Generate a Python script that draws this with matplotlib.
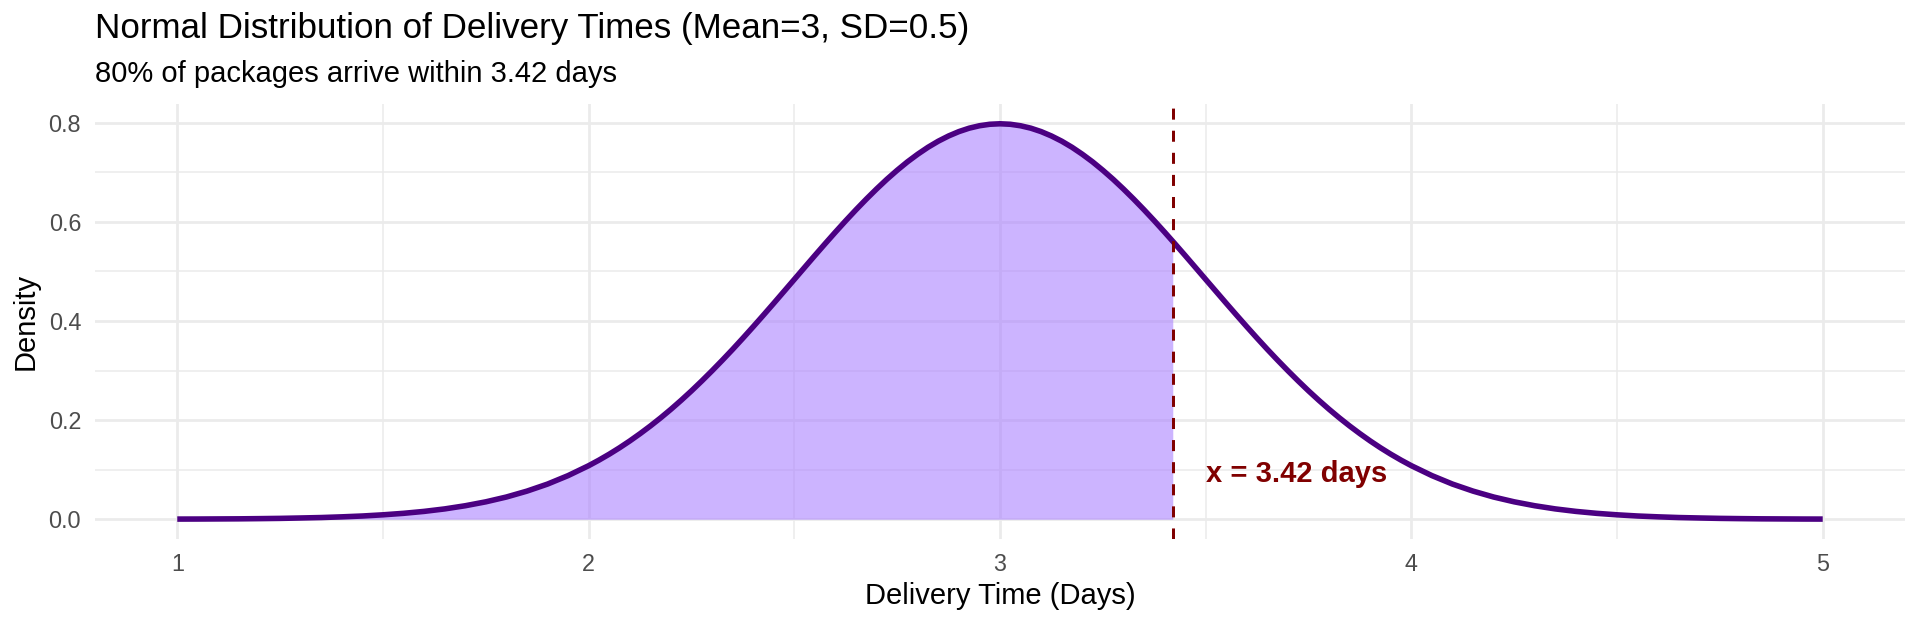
import numpy as np
import matplotlib
matplotlib.use("Agg")
import matplotlib.pyplot as plt

plt.rcParams['font.family'] = ['Liberation Sans', 'DejaVu Sans']

# ---- data ----
mean_days = 3
sd_days = 0.5
cutoff_days = 3.42
cutoff_density = 0.561
# distance from the mean (days) and the density read at that distance (curve is symmetric)
offsets = [2.00, 1.95, 1.90, 1.85, 1.80, 1.75, 1.70, 1.65, 1.60, 1.55,
           1.50, 1.45, 1.40, 1.35, 1.30, 1.25, 1.20, 1.15, 1.10, 1.05,
           1.000, 0.975, 0.950, 0.925, 0.900, 0.875, 0.850, 0.825, 0.800, 0.775,
           0.750, 0.725, 0.700, 0.675, 0.650, 0.625, 0.600, 0.575, 0.550, 0.525,
           0.500, 0.475, 0.450, 0.425, 0.400, 0.375, 0.350, 0.325, 0.300, 0.275,
           0.250, 0.225, 0.200, 0.175, 0.150, 0.125, 0.100, 0.075, 0.050, 0.025,
           0.000]
half_density = [0.0003, 0.0004, 0.0006, 0.0008, 0.0012, 0.0017, 0.0025, 0.0034, 0.0048, 0.0065,
                0.0089, 0.0119, 0.0158, 0.0208, 0.0272, 0.0351, 0.0448, 0.0567, 0.0709, 0.0880,
                0.1080, 0.1192, 0.1312, 0.1441, 0.1579, 0.1726, 0.1881, 0.2045, 0.2218, 0.2400,
                0.2590, 0.2789, 0.2995, 0.3208, 0.3427, 0.3653, 0.3884, 0.4119, 0.4357, 0.4598,
                0.4839, 0.5081, 0.5322, 0.5560, 0.5794, 0.6023, 0.6245, 0.6459, 0.6664, 0.6859,
                0.7041, 0.7211, 0.7365, 0.7505, 0.7628, 0.7733, 0.7821, 0.7890, 0.7939, 0.7969,
                0.7979]
x_ticks = [1, 2, 3, 4, 5]
x_minor = [1.5, 2.5, 3.5, 4.5]
y_ticks = [0.0, 0.2, 0.4, 0.6, 0.8]
y_minor = [0.1, 0.3, 0.5, 0.7]

title = f"Normal Distribution of Delivery Times (Mean={mean_days}, SD={sd_days})"
subtitle = f"80% of packages arrive within {cutoff_days} days"
annot = f"x = {cutoff_days} days"

# full curve: left side then mirrored right side
off = np.array(offsets)
dens = np.array(half_density)
x_days = np.concatenate([mean_days - off, mean_days + off[-2::-1]])
density = np.concatenate([dens, dens[-2::-1]])

# ---- figure ----
W, H = 1920, 624
fig = plt.figure(figsize=(W / 100, H / 100), dpi=100)
ax = fig.add_axes([95 / W, (H - 539) / H, (1905 - 95) / W, (539 - 104) / H])

grid_c = '#EBEBEB'
ax.set_axisbelow(True)
for v in x_ticks:
    ax.axvline(v, color=grid_c, lw=1.95, zorder=0)
for v in x_minor:
    ax.axvline(v, color=grid_c, lw=1.1, zorder=0)
for v in y_ticks:
    ax.axhline(v, color=grid_c, lw=1.95, zorder=0)
for v in y_minor:
    ax.axhline(v, color=grid_c, lw=1.1, zorder=0)

# shaded region up to cutoff
mask = x_days <= cutoff_days
fx = np.append(x_days[mask], cutoff_days)
fy = np.append(density[mask], cutoff_density)
ax.fill_between(fx, 0, fy, color='#AB82FF', alpha=0.6, lw=0, zorder=2)

# curve
ax.plot(x_days, density, color='#4B0082', lw=4.0, zorder=3,
        solid_capstyle='butt', solid_joinstyle='round')

# cutoff line
ax.axvline(cutoff_days, color='#800000', lw=2.15, linestyle=(0, (3.7, 3.7)), zorder=4)

ax.text(3.5, 0.0757, annot, color='#800000', fontsize=21, fontweight='bold',
        ha='left', va='baseline', zorder=5)

ax.set_xlim(0.8, 5.2)
ax.set_ylim(-0.0399, 0.8378)
ax.set_xticks(x_ticks)
ax.set_xticklabels([str(v) for v in x_ticks])
ax.set_yticks(y_ticks)
ax.set_yticklabels([f"{v:.1f}" for v in y_ticks])
ax.tick_params(length=0, labelsize=16.8, labelcolor='#4D4D4D', pad=10)
for s in ax.spines.values():
    s.set_visible(False)

fig.text(95 / W, 1 - 38 / H, title, fontsize=25.2, ha='left', va='baseline', color='black')
fig.text(95 / W, 1 - 82 / H, subtitle, fontsize=21, ha='left', va='baseline', color='black')
fig.text(1000 / W, 1 - 604 / H, "Delivery Time (Days)", fontsize=21, ha='center', va='baseline')
fig.text(25.5 / W, 1 - 321.5 / H, "Density", fontsize=21, ha='center', va='center', rotation=90)

fig.savefig('out.png', dpi=100, facecolor='white')
